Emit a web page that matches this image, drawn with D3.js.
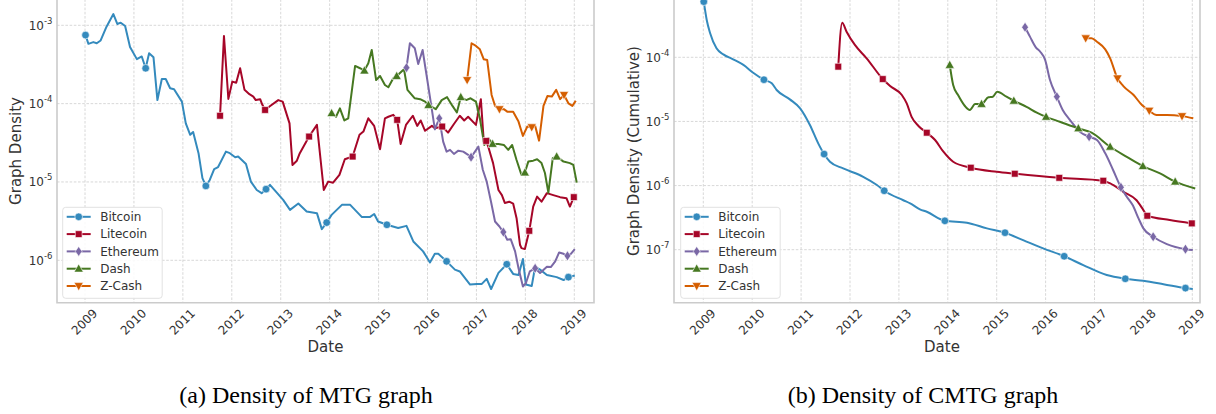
<!DOCTYPE html>
<html>
<head>
<meta charset="utf-8">
<script src="https://cdn.jsdelivr.net/npm/d3@7"></script>
<style>
  html, body { margin: 0; padding: 0; background: #fff; }
  svg { display: block; }
</style>
</head>
<body>
<script>
// ---------------- DATA ----------------
const seriesNames = ["Bitcoin", "Litecoin", "Ethereum", "Dash", "Z-Cash"];
const yearTicks = [2009, 2010, 2011, 2012, 2013, 2014, 2015, 2016, 2017, 2018, 2019];
const yTicksA = [1e-3, 1e-4, 1e-5, 1e-6];
const yTicksB = [1e-4, 1e-5, 1e-6, 1e-7];
const captions = ["(a) Density of MTG graph", "(b) Density of CMTG graph"];

// Panel (a): [decimal year, density, marker flag]
const bitcoinA = [[2009.01,7.5e-4,1],[2009.07,5.8e-4],[2009.17,6.1e-4],[2009.24,5.9e-4],[2009.32,6.4e-4],[2009.44,9.6e-4],[2009.58,1.39e-3],[2009.66,1.04e-3],[2009.73,1.08e-3],[2009.82,9.8e-4],[2009.92,5.3e-4],[2010.06,3.7e-4],[2010.16,4.0e-4],[2010.24,2.83e-4,1],[2010.31,4.4e-4],[2010.40,3.9e-4],[2010.48,1.11e-4],[2010.57,2.06e-4],[2010.65,2.06e-4],[2010.74,1.57e-4],[2010.82,1.53e-4],[2010.98,1.06e-4],[2011.06,5.6e-5],[2011.15,4.0e-5],[2011.21,4.35e-5],[2011.32,2.33e-5],[2011.40,1.12e-5],[2011.47,8.9e-6,1],[2011.55,1.06e-5],[2011.64,1.46e-5],[2011.72,1.55e-5],[2011.88,2.44e-5],[2011.96,2.33e-5],[2012.07,2.07e-5],[2012.13,2.11e-5],[2012.29,1.70e-5],[2012.39,1.01e-5],[2012.51,7.9e-6],[2012.61,7.2e-6],[2012.70,8.1e-6,1],[2012.78,9.2e-6],[2012.92,7.3e-6],[2013.05,5.9e-6],[2013.19,4.4e-6],[2013.36,5.3e-6],[2013.53,4.2e-6],[2013.74,4.0e-6],[2013.84,2.5e-6],[2013.94,3.03e-6,1],[2014.04,3.8e-6],[2014.25,5.1e-6],[2014.42,5.1e-6],[2014.66,3.56e-6],[2014.82,3.56e-6],[2014.91,3.9e-6],[2014.99,3.13e-6],[2015.17,2.84e-6,1],[2015.40,2.58e-6],[2015.57,2.75e-6],[2015.71,1.74e-6],[2015.91,1.30e-6],[2016.05,9.4e-7],[2016.15,1.21e-6],[2016.22,1.21e-6],[2016.39,9.7e-7,1],[2016.56,7.6e-7],[2016.66,7.2e-7],[2016.87,4.9e-7],[2017.01,5.0e-7],[2017.11,5.0e-7],[2017.21,5.8e-7],[2017.30,4.3e-7],[2017.45,6.9e-7],[2017.62,8.9e-7,1],[2017.75,6.7e-7],[2017.86,6.5e-7],[2017.95,1.04e-6],[2018.01,4.9e-7],[2018.13,4.7e-7],[2018.20,8.3e-7],[2018.30,7.6e-7],[2018.44,6.5e-7],[2018.64,6.1e-7],[2018.78,5.6e-7],[2018.88,6.1e-7,1],[2019.01,6.4e-7]];
const litecoinA = [[2011.76,7.0e-5,1],[2011.84,7.3e-4],[2011.93,1.15e-4],[2012.01,1.91e-4],[2012.09,1.85e-4],[2012.17,2.83e-4],[2012.26,1.50e-4],[2012.36,1.32e-4],[2012.44,1.23e-4],[2012.49,1.11e-4],[2012.58,1.14e-4],[2012.62,9.8e-5],[2012.68,8.3e-5,1],[2012.77,9.2e-5],[2012.95,1.11e-4],[2013.04,1.06e-4],[2013.18,5.6e-5],[2013.24,1.65e-5],[2013.33,1.87e-5],[2013.39,2.33e-5],[2013.58,3.8e-5,1],[2013.74,5.35e-5],[2013.88,7.9e-6],[2013.97,1.01e-5],[2014.07,9.8e-6],[2014.20,1.23e-5],[2014.31,1.95e-5],[2014.47,2.11e-5,1],[2014.61,4.0e-5],[2014.69,4.4e-5],[2014.79,6.5e-5],[2014.91,5.2e-5],[2015.03,2.62e-5],[2015.13,6.5e-5],[2015.20,6.8e-5],[2015.30,7.2e-5],[2015.38,6.2e-5,1],[2015.45,3.06e-5],[2015.56,5.35e-5],[2015.70,7.0e-5],[2015.79,5.2e-5],[2015.86,6.1e-5],[2015.95,4.5e-5],[2016.09,5.2e-5],[2016.15,4.85e-5],[2016.30,5.1e-5,1],[2016.42,4.27e-5],[2016.54,5.5e-5],[2016.66,7.0e-5],[2016.75,6.1e-5],[2016.83,6.8e-5],[2016.99,5.35e-5],[2017.09,1.14e-4],[2017.15,3.27e-5],[2017.20,3.34e-5,1],[2017.24,2.83e-5],[2017.34,1.74e-5],[2017.45,7.9e-6],[2017.52,6.8e-6],[2017.58,5.4e-6],[2017.67,5.6e-6],[2017.75,5.3e-6],[2017.82,3.45e-6],[2017.89,1.58e-6],[2017.92,1.43e-6],[2017.99,1.39e-6],[2018.08,2.38e-6,1],[2018.16,4.85e-6],[2018.24,6.5e-6],[2018.33,5.6e-6],[2018.44,7.2e-6],[2018.57,6.8e-6],[2018.71,6.4e-6],[2018.84,6.2e-6],[2018.91,4.85e-6],[2018.99,6.4e-6,1]];
const ethereumA = [[2015.57,2.88e-4,1],[2015.64,5.9e-4],[2015.74,5.1e-4],[2015.81,3.2e-4],[2015.90,4.84e-4],[2015.98,2.32e-4],[2016.09,8.3e-5],[2016.15,4.7e-5],[2016.24,6.5e-5,1],[2016.32,3.27e-5],[2016.39,2.44e-5],[2016.46,2.57e-5],[2016.54,2.28e-5],[2016.63,2.51e-5],[2016.73,2.44e-5],[2016.83,2.22e-5],[2016.89,2.07e-5,1],[2016.97,2.44e-5],[2017.04,2.83e-5],[2017.13,1.43e-5],[2017.21,1.01e-5],[2017.30,5.5e-6],[2017.38,3.13e-6],[2017.47,2.70e-6],[2017.55,2.29e-6,1],[2017.63,1.83e-6],[2017.70,1.86e-6],[2017.79,1.30e-6],[2017.86,7.9e-7],[2017.95,4.63e-7],[2018.01,5.1e-7],[2018.09,7.2e-7],[2018.20,7.9e-7,1],[2018.30,6.9e-7],[2018.44,8.3e-7],[2018.52,8.2e-7],[2018.61,9.7e-7],[2018.69,1.26e-6],[2018.78,1.21e-6],[2018.86,1.14e-6,1],[2018.93,1.21e-6],[2019.01,1.39e-6]];
const dashA = [[2014.04,7.55e-5,1],[2014.13,6.8e-5],[2014.21,8.7e-5],[2014.30,6.1e-5],[2014.38,6.5e-5],[2014.52,3.03e-4],[2014.62,2.83e-4],[2014.71,2.64e-4,1],[2014.79,3.27e-4],[2014.86,4.84e-4],[2014.95,2.0e-4],[2015.03,2.25e-4],[2015.13,1.73e-4],[2015.20,1.62e-4],[2015.30,2.11e-4],[2015.37,2.25e-4,1],[2015.52,2.75e-4],[2015.59,1.50e-4],[2015.74,1.17e-4],[2015.85,1.14e-4],[2015.95,1.06e-4],[2016.02,9.6e-5,1],[2016.17,8.5e-5],[2016.29,1.11e-4],[2016.40,1.21e-4],[2016.51,9.35e-5],[2016.60,7.7e-5],[2016.68,1.21e-4,1],[2016.79,1.11e-4],[2016.88,1.17e-4],[2016.99,1.06e-4],[2017.07,6.5e-5],[2017.16,2.97e-5],[2017.24,3.62e-5],[2017.33,3.06e-5,1],[2017.45,3.06e-5],[2017.56,2.97e-5],[2017.65,2.57e-5],[2017.73,2.97e-5],[2017.82,1.91e-5],[2017.92,1.23e-5],[2017.99,1.32e-5,1],[2018.06,1.82e-5],[2018.16,1.87e-5],[2018.24,1.95e-5],[2018.33,1.74e-5],[2018.40,1.30e-5],[2018.47,7.3e-6],[2018.56,2.01e-5],[2018.64,2.11e-5,1],[2018.78,1.82e-5],[2018.91,1.74e-5],[2018.98,1.65e-5],[2019.05,9.8e-6]];
const zcashA = [[2016.81,2.0e-4,1],[2016.90,5.9e-4],[2016.99,5.45e-4],[2017.07,4.94e-4],[2017.15,3.68e-4],[2017.22,3.6e-4],[2017.31,1.29e-4],[2017.38,9.35e-5],[2017.47,8.5e-5,1],[2017.56,8.5e-5],[2017.63,7.9e-5],[2017.75,7.9e-5],[2017.86,5.9e-5],[2017.95,3.87e-5],[2018.04,5.1e-5],[2018.13,5.0e-5,1],[2018.20,5.2e-5],[2018.28,3.37e-5],[2018.37,9.35e-5],[2018.45,1.25e-4],[2018.54,1.23e-4],[2018.63,1.50e-4],[2018.71,1.14e-4],[2018.79,1.29e-4,1],[2018.88,1.01e-4],[2018.96,9.35e-5],[2019.03,1.09e-4]];

// Panel (b): cumulative
const bitcoinB = [[2009.01,7.36e-4,1],[2009.07,3.82e-4],[2009.14,2.37e-4],[2009.27,1.38e-4],[2009.41,1.11e-4],[2009.61,9.3e-5],[2009.82,7.6e-5],[2010.02,5.75e-5],[2010.24,4.47e-5,1],[2010.40,3.93e-5],[2010.50,3.09e-5],[2010.77,2.21e-5],[2010.98,1.60e-5],[2011.18,8.8e-6],[2011.35,4.55e-6],[2011.47,3.1e-6,1],[2011.59,2.35e-6],[2011.86,1.85e-6],[2012.27,1.37e-6],[2012.55,1.02e-6],[2012.70,8.3e-7,1],[2013.09,5.9e-7],[2013.23,5.27e-7],[2013.43,4.26e-7],[2013.57,3.9e-7],[2013.94,2.82e-7,1],[2014.39,2.63e-7],[2014.80,2.15e-7],[2015.17,1.84e-7,1],[2015.54,1.41e-7],[2015.95,1.05e-7],[2016.38,7.9e-8,1],[2016.77,5.75e-8],[2017.25,4.02e-8],[2017.63,3.52e-8,1],[2018.00,3.27e-8],[2018.41,2.9e-8],[2018.86,2.52e-8,1],[2019.01,2.43e-8]];
const litecoinB = [[2011.76,7.14e-5,1],[2011.84,3.47e-4],[2011.93,2.51e-4],[2012.10,1.56e-4],[2012.34,9.65e-5],[2012.67,4.58e-5,1],[2012.82,3.56e-5],[2013.06,2.58e-5],[2013.16,1.91e-5],[2013.26,1.18e-5],[2013.40,8.5e-6],[2013.57,6.67e-6,1],[2013.74,5.13e-6],[2013.91,3.37e-6],[2014.11,2.35e-6],[2014.47,1.90e-6,1],[2015.00,1.64e-6],[2015.37,1.53e-6,1],[2016.28,1.32e-6,1],[2017.18,1.19e-6,1],[2017.32,1.08e-6],[2017.59,8.0e-7],[2017.86,5.9e-7],[2018.00,4.15e-7],[2018.08,3.38e-7,1],[2018.54,2.9e-7],[2018.99,2.57e-7,1]];
const ethereumB = [[2015.58,2.94e-4,1],[2015.68,2.1e-4],[2015.80,1.43e-4],[2015.89,1.22e-4],[2015.99,9.1e-5],[2016.09,4.42e-5],[2016.23,2.43e-5,1],[2016.35,1.51e-5],[2016.50,1.05e-5],[2016.70,6.9e-6],[2016.89,5.77e-6,1],[2017.05,5.13e-6],[2017.22,3.18e-6],[2017.38,1.75e-6],[2017.54,9.4e-7,1],[2017.66,6.7e-7],[2017.78,4.96e-7],[2017.90,3.08e-7],[2018.00,2.15e-7],[2018.20,1.59e-7,1],[2018.48,1.22e-7],[2018.86,1.02e-7,1],[2019.01,9.9e-8]];
const dashB = [[2014.04,7.59e-5,1],[2014.11,3.7e-5],[2014.21,2.58e-5],[2014.35,1.74e-5],[2014.45,1.51e-5],[2014.56,1.87e-5],[2014.69,1.87e-5,1],[2014.83,2.38e-5],[2014.92,2.43e-5],[2015.01,2.9e-5],[2015.20,2.43e-5],[2015.35,2.1e-5,1],[2015.61,1.69e-5],[2015.82,1.37e-5],[2016.01,1.18e-5,1],[2016.29,9.9e-6],[2016.67,7.8e-6,1],[2016.94,6.67e-6],[2017.32,4.03e-6,1],[2017.66,2.81e-6],[2017.99,2.01e-6,1],[2018.34,1.55e-6],[2018.65,1.15e-6,1],[2019.06,9.0e-7]];
const zcashB = [[2016.82,1.98e-4,1],[2016.94,1.98e-4],[2017.05,1.75e-4],[2017.22,1.33e-4],[2017.32,9.65e-5],[2017.47,4.7e-5,1],[2017.59,3.56e-5],[2017.80,2.58e-5],[2017.97,1.80e-5],[2018.12,1.47e-5,1],[2018.27,1.26e-5],[2018.48,1.26e-5],[2018.79,1.21e-5,1],[2019.02,1.12e-5]];

// ---------------- STYLE ----------------
const colors = ["#348ABD", "#A60628", "#7A68A6", "#467821", "#D55E00"];
const markerTypes = ["circle", "square", "diamond", "triUp", "triDown"];
const SANS = "'DejaVu Sans', sans-serif";

function markerPath(type) {
  switch (type) {
    case "circle": return d3.symbol(d3.symbolCircle, 46)();
    case "square": return d3.symbol(d3.symbolSquare, 46)();
    case "diamond": return "M0,-5L3.4,0L0,5L-3.4,0Z";
    case "triUp": return "M0,-4.8L4.6,3.4L-4.6,3.4Z";
    case "triDown": return "M0,4.8L4.6,-3.4L-4.6,-3.4Z";
  }
}

const svg = d3.select("body").append("svg").attr("width", 1216).attr("height", 414);

function drawPanel(cfg) {
  const g = svg.append("g").style("font-family", SANS);
  const x = d3.scaleLinear().domain([2009, 2019]).range(cfg.xRange);
  const y = d3.scaleLog().domain(cfg.yDomain).range(cfg.yRange);
  const L = cfg.left, R = cfg.right, T = cfg.top, B = cfg.bottom;

  // grid
  g.append("g").selectAll("line").data(yearTicks).join("line")
    .attr("x1", d => x(d)).attr("x2", d => x(d)).attr("y1", T).attr("y2", B)
    .attr("stroke", "#d4d4d4").attr("stroke-width", 0.9).attr("stroke-dasharray", "2.6,1.6");
  g.append("g").selectAll("line").data(cfg.yTicks).join("line")
    .attr("x1", L).attr("x2", R).attr("y1", d => y(d)).attr("y2", d => y(d))
    .attr("stroke", "#d4d4d4").attr("stroke-width", 0.9).attr("stroke-dasharray", "2.6,1.6");

  // frame
  g.append("path")
    .attr("d", `M${L},${T}L${L},${B}L${R},${B}L${R},${T}`)
    .attr("fill", "none").attr("stroke", "#cbcbcb").attr("stroke-width", 1.6);

  // clip
  const cid = "clip" + cfg.id;
  svg.append("defs").append("clipPath").attr("id", cid)
    .append("rect").attr("x", L).attr("y", T).attr("width", R - L).attr("height", B - T);

  const line = d3.line().x(d => x(d[0])).y(d => y(d[1])).curve(cfg.curve);
  const plot = g.append("g").attr("clip-path", `url(#${cid})`);
  cfg.series.forEach((s, i) => {
    plot.append("path").datum(s)
      .attr("d", line).attr("fill", "none")
      .attr("stroke", colors[i]).attr("stroke-width", 2).attr("stroke-linejoin", "round");
  });
  cfg.series.forEach((s, i) => {
    plot.append("g").selectAll("path").data(s.filter(d => d[2])).join("path")
      .attr("d", markerPath(markerTypes[i]))
      .attr("transform", d => `translate(${x(d[0])},${y(d[1])})`)
      .attr("fill", colors[i]).attr("stroke", "#fff").attr("stroke-width", 0.6);
  });

  // y tick labels
  cfg.yTicks.forEach(v => {
    const t = g.append("text").attr("x", L - 4.5).attr("y", y(v) + 4.5)
      .attr("text-anchor", "end").attr("fill", "#333").attr("font-size", 12);
    t.append("tspan").text("10");
    t.append("tspan").attr("dy", -6).attr("font-size", 8.5).text(String(Math.round(Math.log10(v))));
  });

  // x tick labels
  g.append("g").selectAll("text").data(yearTicks).join("text")
    .attr("transform", d => `translate(${x(d) - 0.5},322) rotate(-45)`)
    .attr("text-anchor", "middle").attr("dominant-baseline", "central")
    .attr("fill", "#333").attr("font-size", 12).text(d => d);

  // axis labels
  g.append("text").attr("x", cfg.dateX).attr("y", 352).attr("text-anchor", "middle")
    .attr("fill", "#333").attr("font-size", 15).text("Date");
  g.append("text").attr("transform", `translate(${cfg.ylabelX},151) rotate(-90)`)
    .attr("text-anchor", "middle").attr("fill", "#333").attr("font-size", 15).text(cfg.ylabel);

  // legend
  const lg = g.append("g").attr("transform", `translate(${cfg.legend[0]},${cfg.legend[1]})`);
  lg.append("rect").attr("x", 0).attr("y", 0).attr("width", 99.5).attr("height", 91)
    .attr("rx", 3).attr("fill", "#fff").attr("fill-opacity", 0.85)
    .attr("stroke", "#e2e2e2").attr("stroke-width", 1);
  seriesNames.forEach((n, i) => {
    const ry = 9.5 + i * 17.3;
    lg.append("line").attr("x1", 4).attr("x2", 28).attr("y1", ry).attr("y2", ry)
      .attr("stroke", colors[i]).attr("stroke-width", 2);
    lg.append("path").attr("d", markerPath(markerTypes[i]))
      .attr("transform", `translate(16,${ry})`).attr("fill", colors[i])
      .attr("stroke", "#fff").attr("stroke-width", 0.6);
    lg.append("text").attr("x", 37.5).attr("y", ry + 4.2).attr("font-size", 12)
      .attr("fill", "#333").text(n);
  });
}

drawPanel({
  id: "a", left: 57, right: 594, top: -5, bottom: 302.7,
  xRange: [85, 574.3], yDomain: [1e-6, 1e-3], yRange: [260.3, 25.3], yTicks: yTicksA,
  series: [bitcoinA, litecoinA, ethereumA, dashA, zcashA], curve: d3.curveLinear,
  ylabel: "Graph Density", ylabelX: 21, dateX: 325.5, legend: [62.7, 207.3]
});
drawPanel({
  id: "b", left: 674, right: 1200, top: -5, bottom: 302.7,
  xRange: [703.3, 1192.3], yDomain: [1e-7, 1e-4], yRange: [249.7, 57.3], yTicks: yTicksB,
  series: [bitcoinB, litecoinB, ethereumB, dashB, zcashB], curve: d3.curveMonotoneX,
  ylabel: "Graph Density (Cumulative)", ylabelX: 639, dateX: 942, legend: [680.7, 207.3]
});

// captions
svg.selectAll("text.cap").data(captions).join("text").attr("class", "cap")
  .attr("x", (d, i) => [306, 923][i]).attr("y", 403).attr("text-anchor", "middle")
  .style("font-family", "'Liberation Serif', 'Times New Roman', serif")
  .attr("font-size", 24).attr("fill", "#000").text(d => d);
</script>
</body>
</html>
